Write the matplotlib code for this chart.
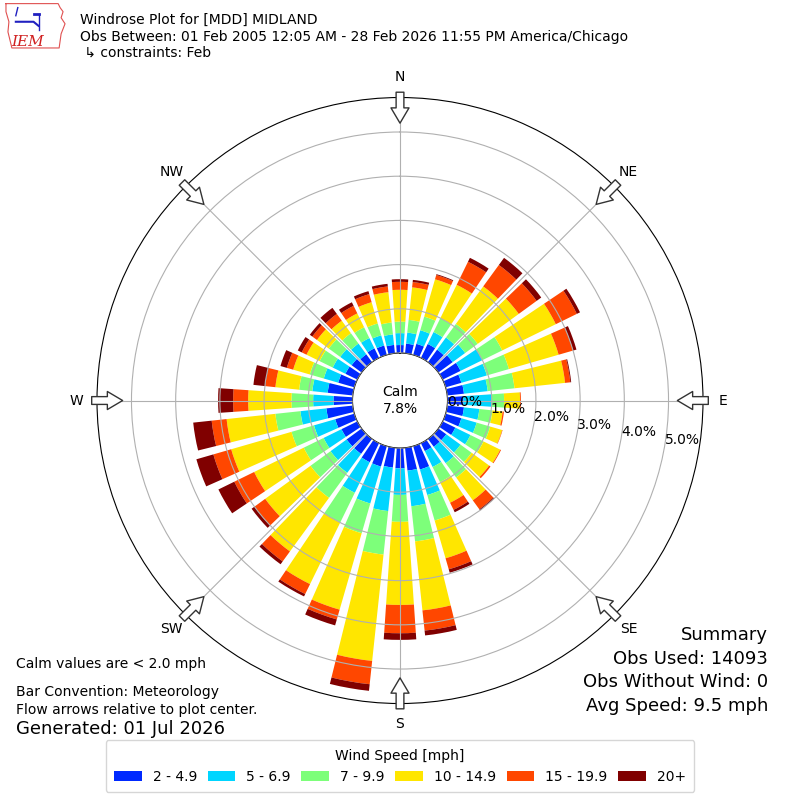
import numpy as np
import matplotlib
matplotlib.use('Agg')
import matplotlib.pyplot as plt

# direction bins (deg, meteorological) and frequency (%) per speed bin
directions = np.arange(0, 360, 10)
speed_labels = ['2 - 4.9', '5 - 6.9', '7 - 9.9', '10 - 14.9', '15 - 19.9', '20+']

spd_2_5 = [0.18, 0.22, 0.26, 0.35, 0.35, 0.40, 0.45, 0.37, 0.38, 0.36,
           0.38, 0.37, 0.32, 0.22, 0.22, 0.20, 0.55, 0.52, 0.46, 0.45,
           0.48, 0.48, 0.42, 0.42, 0.40, 0.45, 0.60, 0.43, 0.57, 0.38,
           0.30, 0.28, 0.22, 0.24, 0.22, 0.19]
spd_5_7 = [0.27, 0.25, 0.32, 0.30, 0.34, 0.35, 0.55, 0.60, 0.54, 0.64,
           0.35, 0.36, 0.38, 0.40, 0.46, 0.40, 0.60, 0.81, 0.60, 0.99,
           0.87, 0.77, 0.53, 0.45, 0.45, 0.50, 0.59, 0.46, 0.35, 0.34,
           0.32, 0.32, 0.30, 0.26, 0.24, 0.24]
spd_7_10 = [0.26, 0.29, 0.32, 0.35, 0.38, 0.35, 0.50, 0.52, 0.61, 0.28,
            0.30, 0.32, 0.33, 0.31, 0.40, 0.38, 0.60, 0.80, 0.61, 0.99,
            0.70, 0.75, 0.70, 0.56, 0.50, 0.53, 0.57, 0.49, 0.30, 0.33,
            0.33, 0.32, 0.29, 0.27, 0.28, 0.27]
spd_10_15 = [0.72, 0.74, 0.88, 0.84, 1.05, 1.15, 1.35, 1.17, 1.15, 0.36,
             0.23, 0.28, 0.42, 0.49, 0.64, 0.52, 0.89, 1.57, 1.88, 2.42,
             1.80, 1.55, 1.50, 1.27, 1.25, 1.42, 1.11, 0.98, 0.54, 0.39,
             0.33, 0.33, 0.35, 0.35, 0.50, 0.69]
spd_15_20 = [0.18, 0.12, 0.10, 0.58, 0.60, 0.50, 0.53, 0.34, 0.12, 0.02,
             0.03, 0.01, 0.02, 0.04, 0.25, 0.18, 0.26, 0.46, 0.64, 0.53,
             0.23, 0.25, 0.28, 0.30, 0.50, 0.42, 0.34, 0.34, 0.23, 0.15,
             0.12, 0.13, 0.19, 0.19, 0.19, 0.13]
spd_20p = [0.06, 0.05, 0.02, 0.10, 0.20, 0.13, 0.08, 0.08, 0.02, 0.00,
           0.00, 0.00, 0.00, 0.00, 0.03, 0.06, 0.08, 0.11, 0.15, 0.15,
           0.14, 0.06, 0.08, 0.08, 0.40, 0.40, 0.42, 0.34, 0.27, 0.15,
           0.10, 0.07, 0.17, 0.09, 0.07, 0.06]

calm_pct = 7.8
compass = ['N', 'NE', 'E', 'SE', 'S', 'SW', 'W', 'NW']

fig = plt.figure(figsize=(8, 8), dpi=100)
ax = fig.add_axes([0.12125, 0.1206, 0.7575, 0.7575], projection='polar')
ax.set_theta_zero_location('N')
ax.set_theta_direction(-1)

colors = plt.cm.jet(np.linspace(0, 1, 7)[1:])
theta = np.radians(directions)
bottom = np.zeros(len(directions))
handles = []
for vals, col, lab in zip([spd_2_5, spd_5_7, spd_7_10, spd_10_15, spd_15_20, spd_20p],
                          colors, speed_labels):
    b = ax.bar(theta, vals, width=np.radians(7.8), bottom=bottom, color=col,
               linewidth=0, zorder=1, label=lab)
    handles.append(b)
    bottom += np.array(vals)

ax.set_ylim(0, 5.78)
ax.set_rorigin(-1.075)
ax.set_yticks([0, 1, 2, 3, 4, 5])
ax.set_yticklabels([])
ax.set_thetagrids(range(0, 360, 45), compass)
ax.tick_params(axis='x', pad=4, labelsize=10)
ax.grid(True, color='#b0b0b0', lw=0.8)
ax.set_axisbelow(False)
for k in range(6):
    ax.text(np.radians(100), k, '%.1f%%' % k, ha='left', va='bottom', fontsize=10, zorder=5)

# flow arrows at the compass points
for d in range(0, 360, 45):
    ax.annotate('', xy=(np.radians(d), 5.2), xytext=(np.radians(d), 5.9),
                arrowprops=dict(arrowstyle='simple,head_length=0.55,head_width=0.65,tail_width=0.28',
                                fc='white', ec='#333333', lw=1, shrinkA=0, shrinkB=0,
                                mutation_scale=20),
                annotation_clip=False, zorder=6)

ax.text(0.5, 0.5, 'Calm\n%.1f%%' % calm_pct, transform=ax.transAxes,
        ha='center', va='center', fontsize=10, zorder=6)

# header
fig.text(0.1, 1 - 20 / 800, 'Windrose Plot for [MDD] MIDLAND', fontsize=10, va='center')
fig.text(0.1, 1 - 37 / 800,
         'Obs Between: 01 Feb 2005 12:05 AM - 28 Feb 2026 11:55 PM America/Chicago',
         fontsize=10, va='center')
fig.text(0.1, 1 - 53 / 800, ' \u21b3 constraints: Feb', fontsize=10, va='center')

# small IEM logo
lax = fig.add_axes([0.005, 0.935, 0.08, 0.063])
lax.set_xlim(0, 65)
lax.set_ylim(0, 50)
lax.axis('off')
lax.plot([2, 55, 57, 60, 58, 62, 58, 56, 8, 6, 4, 5, 2, 2],
         [48, 48, 44, 40, 34, 28, 18, 4, 4, 12, 20, 30, 40, 48], color='#e05050', lw=0.8)
lax.text(24, 10, 'IEM', color='#d02020', fontsize=11, style='italic', family='DejaVu Serif',
         ha='center', va='center')
lax.plot([12, 30, 35], [30, 30, 26], color='#2020c0', lw=1.5)
lax.plot([30, 36], [38, 38], color='#2020c0', lw=2)
lax.plot([36, 36], [38, 22], color='#2020c0', lw=1)
lax.plot([14, 12], [44, 36], color='#2020c0', lw=1)

# notes
fig.text(16 / 800, 1 - 664 / 800, 'Calm values are < 2.0 mph', fontsize=10, va='center')
fig.text(16 / 800, 1 - 692 / 800, 'Bar Convention: Meteorology', fontsize=10, va='center')
fig.text(16 / 800, 1 - 710 / 800, 'Flow arrows relative to plot center.', fontsize=10, va='center')
fig.text(16 / 800, 1 - 729 / 800, 'Generated: 01 Jul 2026', fontsize=13, va='center')

fig.text(768 / 800, 1 - 635 / 800, 'Summary', fontsize=13, ha='right', va='center')
fig.text(768 / 800, 1 - 659 / 800, 'Obs Used: 14093', fontsize=13, ha='right', va='center')
fig.text(768 / 800, 1 - 682 / 800, 'Obs Without Wind: 0', fontsize=13, ha='right', va='center')
fig.text(768 / 800, 1 - 706 / 800, 'Avg Speed: 9.5 mph', fontsize=13, ha='right', va='center')

fig.legend(handles=handles, labels=speed_labels, loc='lower center',
           bbox_to_anchor=(0.5, 0.01), borderaxespad=0, ncol=6,
           title='Wind Speed [mph]', fontsize=10, title_fontsize=10,
           columnspacing=0.75, borderpad=0.6)

fig.savefig('out.png', dpi=100)
